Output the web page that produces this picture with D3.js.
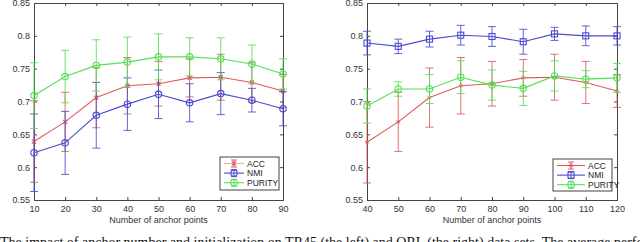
<!DOCTYPE html>
<html><head><meta charset="utf-8">
<script src="https://cdn.jsdelivr.net/npm/d3@7/dist/d3.min.js"></script>
<style>html,body{margin:0;padding:0;background:#fff;overflow:hidden}svg{display:block}</style>
</head><body><svg id="c" width="640" height="242"></svg>
<script>
// ---- data ----
const seriesNames = ["ACC", "NMI", "PURITY"];
const yTicks = [0.55, 0.6, 0.65, 0.7, 0.75, 0.8, 0.85];
// Left: TR45
const leftX = [10, 20, 30, 40, 50, 60, 70, 80, 90];
const leftACC = [0.639, 0.669, 0.706, 0.724, 0.727, 0.736, 0.737, 0.729, 0.716];
const leftACCerr = [0.062, 0.045, 0.046, 0.043, 0.034, 0.029, 0.035, 0.030, 0.025];
const leftNMI = [0.622, 0.637, 0.679, 0.696, 0.711, 0.698, 0.712, 0.702, 0.689];
const leftNMIerr = [0.059, 0.048, 0.050, 0.040, 0.037, 0.029, 0.032, 0.018, 0.026];
const leftPUR = [0.709, 0.738, 0.755, 0.760, 0.768, 0.768, 0.765, 0.757, 0.742];
const leftPURerr = [0.050, 0.040, 0.039, 0.038, 0.035, 0.029, 0.032, 0.029, 0.023];
// Right: ORL
const rightX = [40, 50, 60, 70, 80, 90, 100, 110, 120];
const rightACC = [0.638, 0.669, 0.706, 0.724, 0.727, 0.736, 0.737, 0.729, 0.716];
const rightACCerr = [0.062, 0.045, 0.045, 0.043, 0.034, 0.028, 0.035, 0.032, 0.025];
const rightNMI = [0.789, 0.784, 0.795, 0.801, 0.799, 0.791, 0.803, 0.800, 0.800];
const rightNMIerr = [0.018, 0.011, 0.012, 0.015, 0.015, 0.019, 0.010, 0.015, 0.014];
const rightPUR = [0.693, 0.719, 0.719, 0.737, 0.725, 0.720, 0.739, 0.734, 0.736];
const rightPURerr = [0.026, 0.011, 0.022, 0.025, 0.023, 0.026, 0.023, 0.013, 0.022];
const xLabel = "Number of anchor points";
const caption = "The impact of anchor number and initialization on TR45 (the left) and ORL (the right) data sets. The average perfo";

const colors = {ACC: "#de5a5a", NMI: "#4a4ad0", PURITY: "#55e055"};
const svg = d3.select("#c");
const font = "Liberation Sans, Arial, sans-serif";

function panel(cfg) {
  const x = d3.scaleLinear().domain(cfg.xdom).range(cfg.xr);
  const y = d3.scaleLinear().domain([0.55, 0.85]).range([200, 3]);
  const g = svg.append("g");
  const axC = "#444";
  const bottom = g.append("g").attr("transform", `translate(0,${y(0.55)})`)
    .call(d3.axisBottom(x).tickValues(cfg.xs).tickSize(-3).tickPadding(6).tickFormat(d3.format("d")));
  const top = g.append("g").attr("transform", `translate(0,${y(0.85)})`)
    .call(d3.axisTop(x).tickValues(cfg.xs).tickSize(-3).tickFormat(""));
  const left = g.append("g").attr("transform", `translate(${cfg.xr[0]},0)`)
    .call(d3.axisLeft(y).tickValues(yTicks).tickSize(-3).tickPadding(4).tickFormat(d => String(+d.toFixed(2))));
  const right = g.append("g").attr("transform", `translate(${cfg.xr[1]},0)`)
    .call(d3.axisRight(y).tickValues(yTicks).tickSize(-3).tickFormat(""));
  [bottom, top, left, right].forEach(a => {
    a.select(".domain").attr("stroke", axC).attr("stroke-width", 1);
    a.selectAll(".tick line").attr("stroke", axC);
    a.selectAll("text").attr("fill", "#333").style("font-family", font).style("font-size", "9px");
  });
  g.append("text").attr("x", (cfg.xr[0] + cfg.xr[1]) / 2).attr("y", 223)
    .attr("text-anchor", "middle").style("font-family", font).style("font-size", "9px")
    .attr("fill", "#333").text(xLabel);

  cfg.series.forEach(s => {
    const c = colors[s.name];
    const sg = g.append("g");
    const pts = cfg.xs.map((xv, i) => ({x: xv, v: s.vals[i], e: s.errs[i]}));
    pts.forEach(p => {
      const px = x(p.x);
      sg.append("line").attr("x1", px).attr("x2", px).attr("y1", y(p.v - p.e)).attr("y2", y(p.v + p.e))
        .attr("stroke", c).attr("stroke-width", 1).attr("opacity", 0.85);
      [p.v - p.e, p.v + p.e].forEach(v => sg.append("line").attr("x1", px - 4).attr("x2", px + 4)
        .attr("y1", y(v)).attr("y2", y(v)).attr("stroke", c).attr("stroke-width", 1).attr("opacity", 0.85));
    });
    sg.append("path").datum(pts)
      .attr("d", d3.line().x(p => x(p.x)).y(p => y(p.v)))
      .attr("fill", "none").attr("stroke", c).attr("stroke-width", 1.1);
    pts.forEach(p => drawMarker(sg, s.marker, x(p.x), y(p.v), c));
  });

  const L = cfg.legend;
  g.append("rect").attr("x", L.x).attr("y", L.y).attr("width", L.w).attr("height", L.h)
    .attr("fill", "#fff").attr("stroke", "#444").attr("stroke-width", 1);
  cfg.series.forEach((s, i) => {
    const c = colors[s.name];
    const ly = L.y + 6.5 + i * 9.6;
    const mx = L.x + L.lineW / 2 + 4;
    g.append("line").attr("x1", L.x + 4).attr("x2", L.x + 4 + L.lineW).attr("y1", ly).attr("y2", ly)
      .attr("stroke", c).attr("stroke-width", 1.1).attr("opacity", s.name === "ACC" && cfg.fadeAcc ? 0.45 : 1);
    g.append("line").attr("x1", mx).attr("x2", mx).attr("y1", ly - 3.5).attr("y2", ly + 3.5).attr("stroke", c);
    [ly - 3.5, ly + 3.5].forEach(yy => g.append("line").attr("x1", mx - 3).attr("x2", mx + 3)
      .attr("y1", yy).attr("y2", yy).attr("stroke", c));
    drawMarker(g, s.marker, mx, ly, c);
    g.append("text").attr("x", L.x + L.lineW + 7).attr("y", ly + 3).style("font-family", font)
      .style("font-size", "8.5px").attr("fill", "#222").text(s.name);
  });
}

function drawMarker(g, m, cx, cy, c) {
  if (m === "circle") {
    g.append("circle").attr("cx", cx).attr("cy", cy).attr("r", 3.2).attr("fill", "none").attr("stroke", c).attr("stroke-width", 1.1);
  } else if (m === "square") {
    g.append("rect").attr("x", cx - 3).attr("y", cy - 3).attr("width", 6).attr("height", 6).attr("fill", "none").attr("stroke", c).attr("stroke-width", 1.1);
  } else if (m === "star") {
    g.append("path").attr("d", d3.symbol(d3.symbolAsterisk || d3.symbolCross, 14)()).attr("transform", `translate(${cx},${cy})`)
      .attr("fill", c).attr("stroke", c).attr("stroke-width", 0.8);
  } else {
    g.append("path").attr("d", `M${cx-2},${cy-2}L${cx+2},${cy+2}M${cx-2},${cy+2}L${cx+2},${cy-2}`).attr("stroke", c).attr("stroke-width", 1.2);
  }
}

panel({
  xdom: [10, 90], xr: [34, 283], xs: leftX, fadeAcc: true,
  series: [
    {name: "ACC", vals: leftACC, errs: leftACCerr, marker: "x"},
    {name: "NMI", vals: leftNMI, errs: leftNMIerr, marker: "circle"},
    {name: "PURITY", vals: leftPUR, errs: leftPURerr, marker: "circle"}
  ],
  legend: {x: 220, y: 157, w: 59, h: 33, lineW: 20}
});
panel({
  xdom: [40, 120], xr: [367, 617], xs: rightX, fadeAcc: false,
  series: [
    {name: "ACC", vals: rightACC, errs: rightACCerr, marker: "star"},
    {name: "NMI", vals: rightNMI, errs: rightNMIerr, marker: "square"},
    {name: "PURITY", vals: rightPUR, errs: rightPURerr, marker: "circle"}
  ],
  legend: {x: 553, y: 159, w: 59, h: 32, lineW: 28}
});

svg.append("text").attr("x", 0).attr("y", 246.5).style("font-family", "Liberation Serif, Times New Roman, serif")
  .style("font-size", "14px").attr("fill", "#111").text(caption);
</script></body></html>
